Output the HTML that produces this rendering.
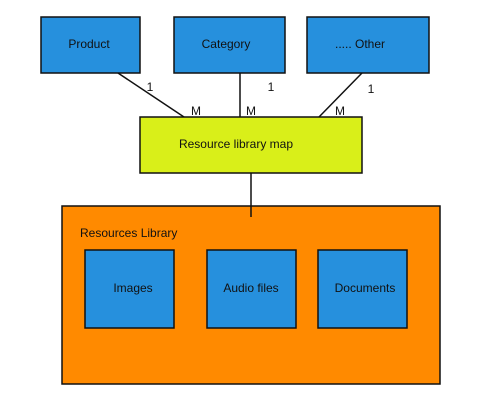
<!DOCTYPE html>
<html><head><style>html,body{margin:0;padding:0;background:#fff;}</style></head>
<body>
<svg width="500" height="409" xmlns="http://www.w3.org/2000/svg" font-family="Liberation Sans, sans-serif" font-size="12" fill="#111">
<g stroke="#111" stroke-width="1.5">
<rect x="41" y="17" width="99" height="56" fill="#2690dd"/>
<rect x="174" y="17" width="111" height="56" fill="#2690dd"/>
<rect x="307" y="17" width="122" height="56" fill="#2690dd"/>
<line x1="118" y1="73" x2="184" y2="117"/>
<line x1="240" y1="73" x2="240" y2="117"/>
<line x1="362" y1="73" x2="319" y2="117"/>
<rect x="140" y="117" width="222" height="56" fill="#d9ef19"/>
<rect x="62" y="206" width="378" height="178" fill="#ff8a00"/>
<line x1="251" y1="173" x2="251" y2="217"/>
<rect x="85" y="250" width="89" height="78" fill="#2690dd"/>
<rect x="207" y="250" width="89" height="78" fill="#2690dd"/>
<rect x="318" y="250" width="89" height="78" fill="#2690dd"/>
</g>
<g text-anchor="middle" stroke="none">
<text x="89" y="48">Product</text>
<text x="226" y="48">Category</text>
<text x="360" y="48">..... Other</text>
<text x="236" y="148">Resource library map</text>
<text x="133" y="292">Images</text>
<text x="251" y="292">Audio files</text>
<text x="365" y="292">Documents</text>
<text x="150" y="91">1</text>
<text x="271" y="91">1</text>
<text x="371" y="93">1</text>
<text x="196" y="115">M</text>
<text x="251" y="115">M</text>
<text x="340" y="115">M</text>
</g>
<text x="80" y="237">Resources Library</text>
</svg>
</body></html>
